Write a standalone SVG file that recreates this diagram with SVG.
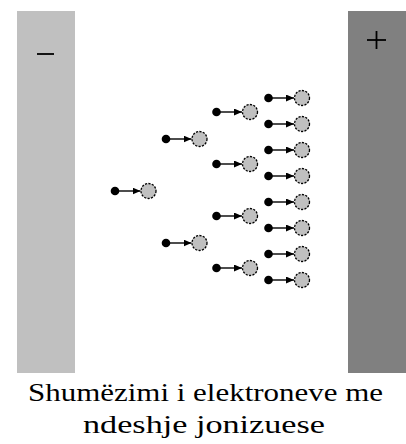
<svg xmlns="http://www.w3.org/2000/svg" width="406" height="444" viewBox="0 0 406 444">
  <style>
    .plate-neg { fill: #c0c0c0; }
    .plate-pos { fill: #808080; }
    .sign { stroke: #000; stroke-width: 1.8; fill: none; }
    .electron { fill: #000; }
    .atom { fill: #c0c0c0; stroke: #000; stroke-width: 1.3; stroke-dasharray: 2.2 1.3; }
    .path { stroke: #000; stroke-width: 1.4; fill: none; marker-end: url(#head); }
    .caption { font-family: "Liberation Serif", "DejaVu Serif", serif; font-size: 26px; fill: #000; text-anchor: middle; }
  </style>
  <defs>
    <marker id="head" markerWidth="8" markerHeight="7" refX="8" refY="3.5" orient="auto" markerUnits="userSpaceOnUse">
      <path d="M0,0 L8,3.5 L0,7 Z" fill="#000"/>
    </marker>
    <!-- one ionising collision: electron, flight path, struck atom -->
    <g id="hit">
      <circle class="electron" cx="0" cy="0" r="4.3"/>
      <line class="path" x1="3" y1="0" x2="25.5" y2="0"/>
      <circle class="atom" cx="33.5" cy="0" r="7.5"/>
    </g>
  </defs>

  <g id="cathode">
    <rect class="plate-neg" x="17" y="11" width="58" height="362"/>
    <line class="sign" x1="37" y1="54" x2="54" y2="54"/>
  </g>
  <g id="anode">
    <rect class="plate-pos" x="348" y="11" width="58" height="362"/>
    <line class="sign" x1="367" y1="40" x2="386" y2="40"/>
    <line class="sign" x1="376.5" y1="31" x2="376.5" y2="49"/>
  </g>

  <g id="avalanche">
    <g id="gen0"><use href="#hit" x="115" y="191"/></g>
    <g id="gen1">
      <use href="#hit" x="166" y="139"/>
      <use href="#hit" x="166" y="243"/>
    </g>
    <g id="gen2">
      <use href="#hit" x="216.5" y="112"/>
      <use href="#hit" x="216.5" y="164"/>
      <use href="#hit" x="216.5" y="216"/>
      <use href="#hit" x="216.5" y="268"/>
    </g>
    <g id="gen3">
      <use href="#hit" x="268.5" y="98"/>
      <use href="#hit" x="268.5" y="124"/>
      <use href="#hit" x="268.5" y="150"/>
      <use href="#hit" x="268.5" y="176"/>
      <use href="#hit" x="268.5" y="202"/>
      <use href="#hit" x="268.5" y="228"/>
      <use href="#hit" x="268.5" y="254"/>
      <use href="#hit" x="268.5" y="280"/>
    </g>
  </g>

  <g id="caption">
    <text class="caption" x="205.5" y="401" textLength="355" lengthAdjust="spacingAndGlyphs">Shumëzimi i elektroneve me</text>
    <text class="caption" x="204" y="433" textLength="242" lengthAdjust="spacingAndGlyphs">ndeshje jonizuese</text>
  </g>
</svg>
